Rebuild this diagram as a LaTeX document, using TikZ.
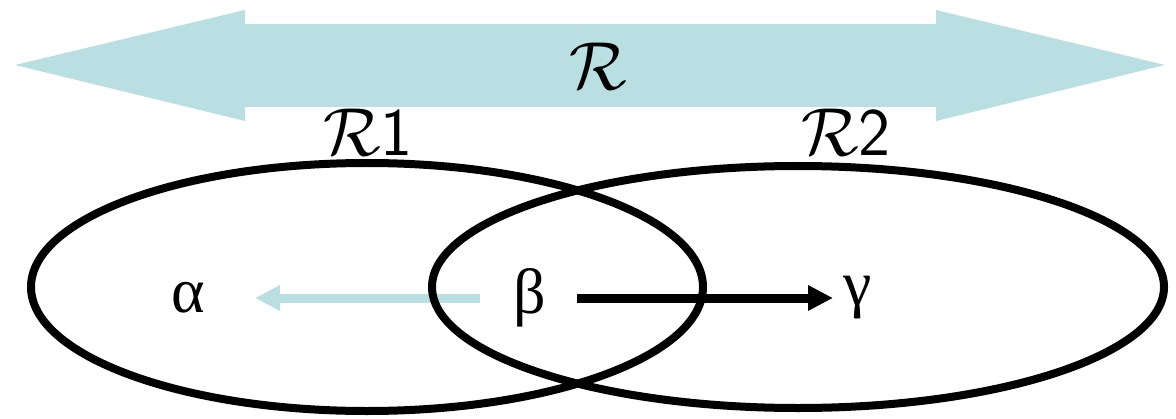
\RequirePackage{fix-cm}
\documentclass[tikz,border=0pt]{standalone}
\usepackage{amsmath}
\usepackage{fontspec}
\newfontfamily\greekfont{Liberation Serif}
\usetikzlibrary{arrows.meta, shapes.geometric}
\definecolor{paleblue}{RGB}{186,223,226}

\begin{document}
\begin{tikzpicture}[
    x=0.5pt, y=0.5pt,
    set/.style={
        draw,
        ellipse,
        line width=4pt,
        inner sep=0pt
    },
    letter/.style={
        font=\greekfont\fontsize{32}{38}\selectfont,
        inner sep=0pt
    },
    tag/.style={
        font=\fontsize{34}{40}\selectfont,
        inner sep=0pt
    },
    arrow/.style={
        -{Triangle[length=12.5pt, width=12pt]},
        line width=4.5pt
    }
]
\useasboundingbox (0,0) rectangle (1176,418);

% wide double arrow across the top
\fill[paleblue] (15,353) -- (245,408) -- (245,394) -- (936,394) -- (936,408)
    -- (1165,353) -- (936,297) -- (936,311) -- (245,311) -- (245,297) -- cycle;
\node[tag] (whole) at (598,352) {$\mathcal{R}$};

\node[tag] (partone) at (368,286) {$\mathcal{R}$\textsf{1}};
\node[tag] (parttwo) at (846,286) {$\mathcal{R}$\textsf{2}};

\node[letter] (alpha) at (188,120) {α};
\node[letter] (beta) at (530,120) {β};
\node[letter] (gamma) at (858,120) {γ};

\draw[arrow, paleblue, shorten <=25pt, shorten >=33.5pt] (beta.center) -- (alpha.center);
\draw[arrow, shorten <=23.5pt, shorten >=12.5pt] (beta.center) -- (gamma.center);

\node[set, minimum width=336pt, minimum height=124pt] (leftset) at (367,131) {};
\node[set, minimum width=366pt, minimum height=121pt] (rightset) at (798,131) {};

\end{tikzpicture}
\end{document}
